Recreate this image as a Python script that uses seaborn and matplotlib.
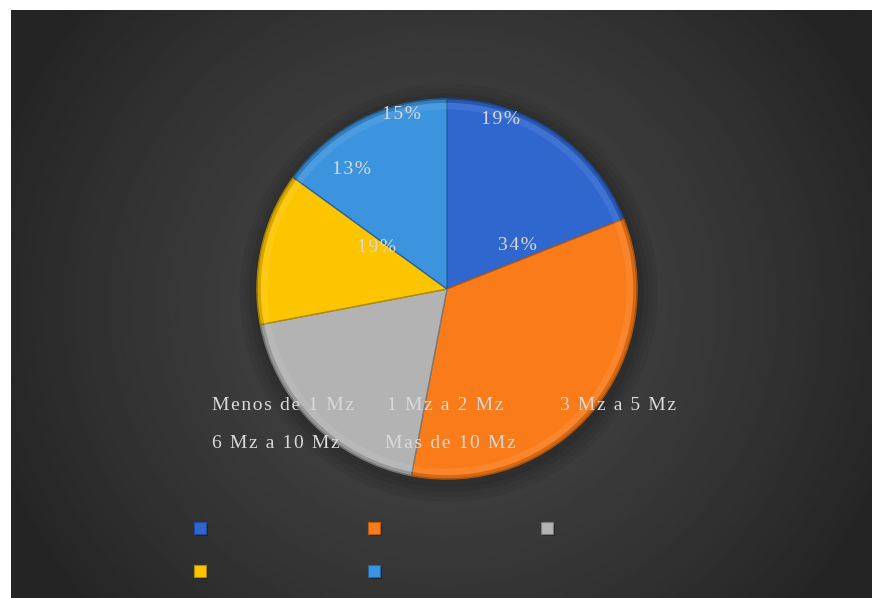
import numpy as np
import matplotlib
matplotlib.use("Agg")
import matplotlib.pyplot as plt
from matplotlib.patches import Rectangle, Circle, Wedge
import seaborn as sns

# ---- data ----
categories = ["Menos de 1 Mz", "1 Mz a 2 Mz", "3 Mz a 5 Mz", "6 Mz a 10 Mz", "Mas de 10 Mz"]
values = [19, 34, 19, 13, 15]
pct_labels = ["19%", "34%", "19%", "13%", "15%"]

# ---- style ----
sns.set_style("white")
plt.rcParams["font.family"] = ["Liberation Serif", "DejaVu Serif"]
colors = ["#2f67cf", "#fa7b19", "#b3b3b3", "#fdc500", "#3c93de"]
edge_colors = ["#1d4a9c", "#b95a10", "#7a7a7a", "#b08a00", "#23669f"]
text_color = "#d9d9d9"

W, H = 872, 598
fig = plt.figure(figsize=(W / 100, H / 100), dpi=100)
fig.patch.set_facecolor("white")

# background panel with radial gradient
bg = fig.add_axes([11 / W, 0, (W - 11) / W, (H - 10) / H])
bg.set_axis_off()
ny, nx = 300, 430
yy, xx = np.mgrid[0:ny, 0:nx]
cx, cy = nx * 0.50, ny * 0.50
d = np.sqrt(((xx - cx) / (nx * 0.55)) ** 2 + ((yy - cy) / (nx * 0.55)) ** 2)
d = np.clip(d, 0, 1)
lo, hi = 0x25 / 255, 0x48 / 255
img = hi - (hi - lo) * d ** 1.3
bg.imshow(img, cmap="gray", vmin=0, vmax=1, aspect="auto", extent=[0, 1, 0, 1])
bg.set_xlim(0, 1)
bg.set_ylim(0, 1)

# pie axes
pcx, pcy, r = 447, 289, 190
ax = fig.add_axes([(pcx - r * 1.2) / W, (H - pcy - r * 1.2) / H, 2.4 * r / W, 2.4 * r / H])
ax.set_axis_off()

wedges, _ = ax.pie(values, colors=colors, startangle=90, counterclock=False, radius=1.0,
                   wedgeprops=dict(linewidth=1.0, edgecolor="#1f2f45"))
ax.set_aspect("auto")
ax.set_xlim(-1.2, 1.2)
ax.set_ylim(-1.2, 1.2)

# soft shadow
for i, a in enumerate([0.05, 0.05, 0.06, 0.07]):
    ax.add_patch(Circle((0.01, -0.02), 1.0 + 0.025 * (4 - i), color="black", alpha=a, lw=0, zorder=0))

for w, ec in zip(wedges, edge_colors):
    w.set_edgecolor(ec)
    w.set_zorder(2)

# subtle bevel: darker outer rim + lighter inner ring
for w in wedges:
    th1, th2 = w.theta1, w.theta2
    ax.add_patch(Wedge((0, 0), 1.0, th1, th2, width=0.02, facecolor="black", alpha=0.15, lw=0, zorder=3))
    ax.add_patch(Wedge((0, 0), 0.98, th1, th2, width=0.035, facecolor="white", alpha=0.08, lw=0, zorder=3))

# percentage labels (positions as rendered in the reference)
label_pos = [(0.28, 0.89), (0.37, 0.23), (-0.37, 0.22), (-0.50, 0.63), (-0.24, 0.92)]
for (lx, ly), t in zip(label_pos, pct_labels):
    ax.text(lx, ly, "\u200a".join(t), ha="center", va="center", fontsize=14, color=text_color, zorder=5)

# legend texts (spread letters like the reference)
def spaced(s):
    return "\u200a".join(list(s))

text_pos = [(212, 406), (387, 406), (560, 406), (212, 443), (385, 443)]
for (tx, ty), c in zip(text_pos, categories):
    fig.text(tx / W, 1 - ty / H, spaced(c), ha="left", va="center", fontsize=14,
             color=text_color, zorder=10)

# legend markers
mark_pos = [(200, 528), (374, 528), (547, 528), (200, 571), (374, 571)]
s = 12
for (mx, my), c, ec in zip(mark_pos, colors, edge_colors):
    fig.add_artist(Rectangle(((mx - s / 2 + 1.5) / W, 1 - (my + s / 2 + 1.5) / H), s / W, s / H,
                             transform=fig.transFigure, facecolor="black", alpha=0.35, lw=0))
    fig.add_artist(Rectangle(((mx - s / 2) / W, 1 - (my + s / 2) / H), s / W, s / H,
                             transform=fig.transFigure, facecolor=c, edgecolor=ec, lw=0.8))

fig.savefig("out.png", dpi=100, facecolor="white")
